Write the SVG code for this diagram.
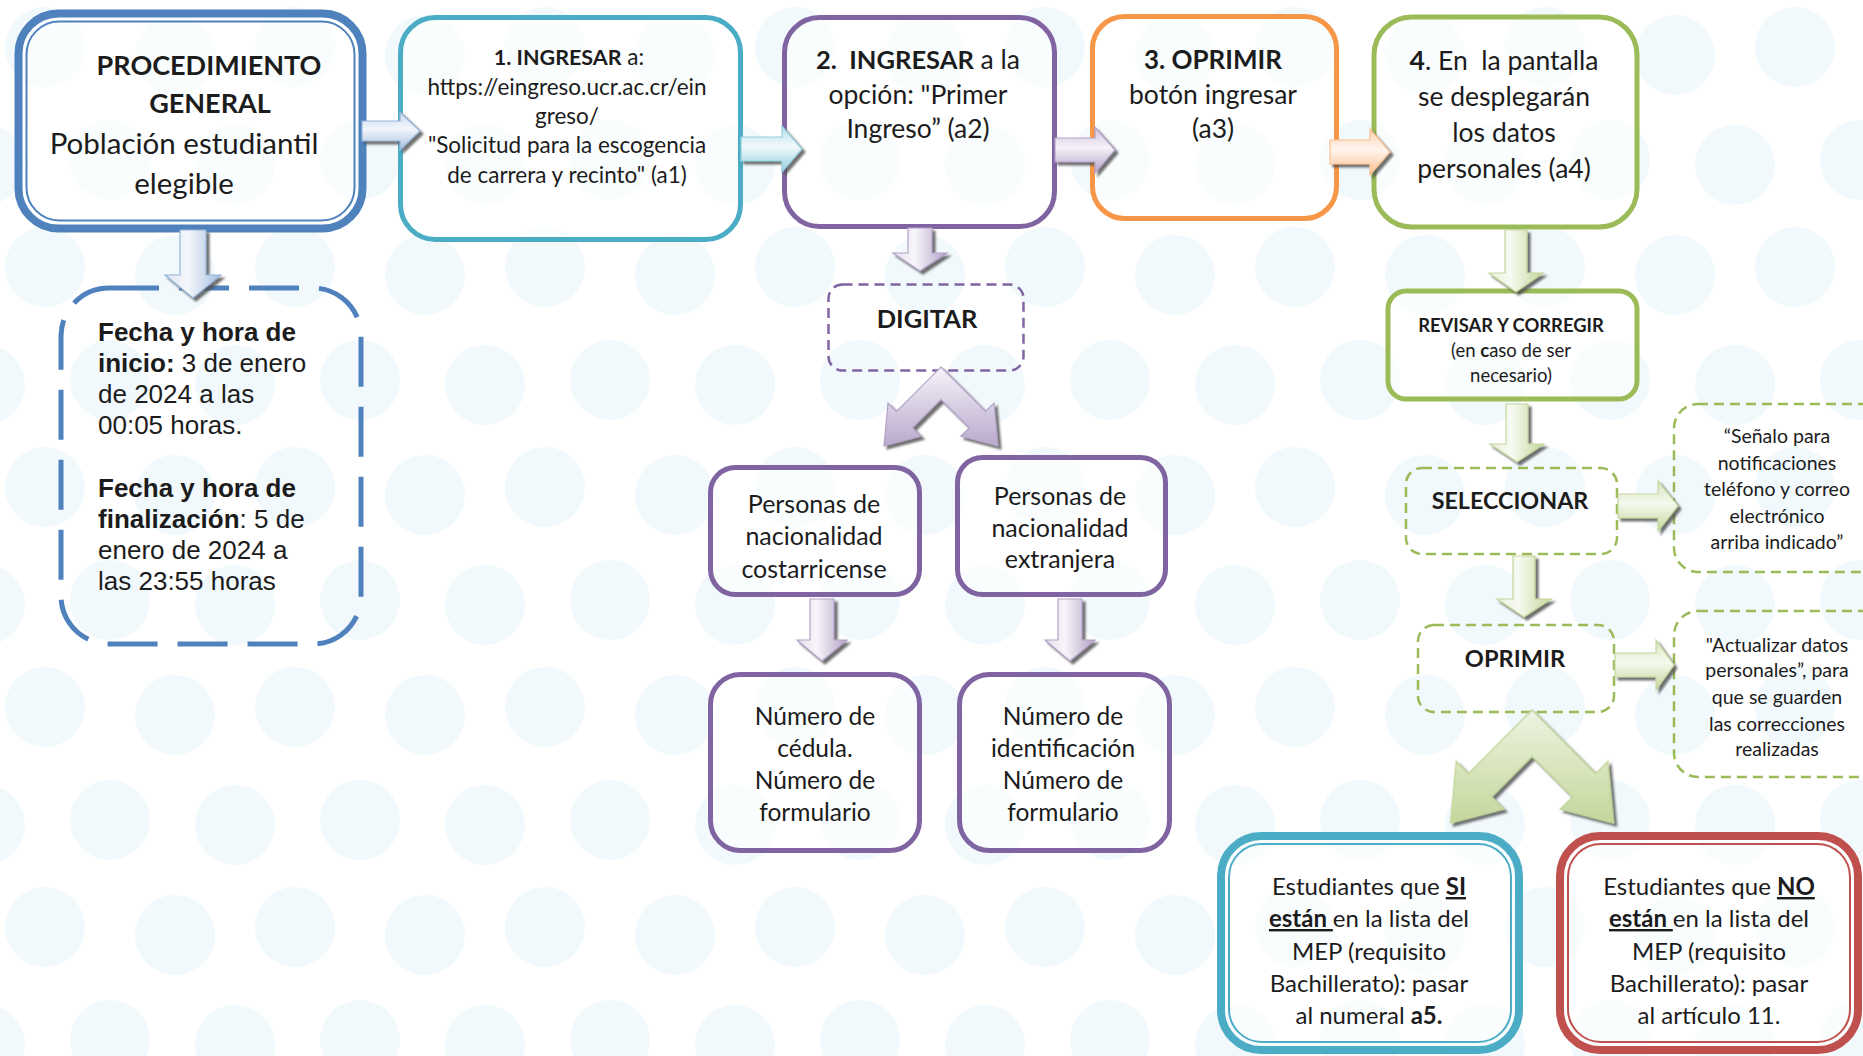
<svg xmlns="http://www.w3.org/2000/svg" width="1863" height="1056" viewBox="0 0 1863 1056">
<style>
.c{font-family:Lato,"Open Sans","Liberation Sans",sans-serif;fill:#1c1c1c;text-anchor:middle}
.a{font-family:"Liberation Sans",Arial,sans-serif;fill:#1c1c1c;font-size:26px}
.b{font-weight:bold}
.u{font-weight:bold;text-decoration:underline}
.box{fill:#ffffff;fill-opacity:.6;stroke-width:5}
.dash{fill:none;stroke-width:2.5;stroke-dasharray:10 6}
.dot{fill:#f1f9fd}
</style>
<defs>
<pattern id="dots" patternUnits="userSpaceOnUse" width="250" height="220" patternTransform="translate(0,660)">
<circle class="dot" cx="45" cy="47" r="40"/>
<circle class="dot" cx="175" cy="55" r="40"/>
<circle class="dot" cx="110" cy="160" r="40"/>
<circle class="dot" cx="235" cy="165" r="40"/>
<circle class="dot" cx="-15" cy="165" r="40"/>
<circle class="dot" cx="45" cy="267" r="40"/>
<circle class="dot" cx="175" cy="275" r="40"/>
<circle class="dot" cx="110" cy="-60" r="40"/>
<circle class="dot" cx="235" cy="-55" r="40"/>
<circle class="dot" cx="295" cy="47" r="40"/>
</pattern>
<filter id="sh" x="-20%" y="-20%" width="150%" height="150%">
<feDropShadow dx="3" dy="3" stdDeviation="1" flood-color="#4d4d4d" flood-opacity=".8"/>
</filter>
<linearGradient id="hBlue" x1="0" y1="0" x2="0" y2="1"><stop offset="0" stop-color="#c6d9f1"/><stop offset=".45" stop-color="#f2f6fb"/><stop offset="1" stop-color="#a7bfde"/></linearGradient>
<linearGradient id="hTeal" x1="0" y1="0" x2="0" y2="1"><stop offset="0" stop-color="#b7dee8"/><stop offset=".45" stop-color="#f0f9fb"/><stop offset="1" stop-color="#93cddd"/></linearGradient>
<linearGradient id="hPurp" x1="0" y1="0" x2="0" y2="1"><stop offset="0" stop-color="#ccc1da"/><stop offset=".45" stop-color="#f5f2f8"/><stop offset="1" stop-color="#b3a2c7"/></linearGradient>
<linearGradient id="hOrng" x1="0" y1="0" x2="0" y2="1"><stop offset="0" stop-color="#fcd5b5"/><stop offset=".45" stop-color="#fff5ee"/><stop offset="1" stop-color="#fabf8f"/></linearGradient>
<linearGradient id="hGrn" x1="0" y1="0" x2="0" y2="1"><stop offset="0" stop-color="#d7e4bd"/><stop offset=".45" stop-color="#f5f9ee"/><stop offset="1" stop-color="#c3d69b"/></linearGradient>
<linearGradient id="vBlue" x1="0" y1="0" x2="1" y2="0"><stop offset="0" stop-color="#dbe5f1"/><stop offset=".4" stop-color="#f5f8fc"/><stop offset="1" stop-color="#a7bfde"/></linearGradient>
<linearGradient id="vPurp" x1="0" y1="0" x2="1" y2="0"><stop offset="0" stop-color="#e5dfec"/><stop offset=".4" stop-color="#f7f5fa"/><stop offset="1" stop-color="#b3a2c7"/></linearGradient>
<linearGradient id="vGrn" x1="0" y1="0" x2="1" y2="0"><stop offset="0" stop-color="#ebf1de"/><stop offset=".4" stop-color="#f7faf1"/><stop offset="1" stop-color="#c3d69b"/></linearGradient>
<linearGradient id="cPurp" x1="0" y1="0" x2="0" y2="1"><stop offset="0" stop-color="#f6f3f9"/><stop offset="1" stop-color="#b9a9cc"/></linearGradient>
<linearGradient id="cGrn" x1="0" y1="0" x2="0" y2="1"><stop offset="0" stop-color="#eef4e2"/><stop offset="1" stop-color="#c4d79b"/></linearGradient>
<path id="chev" d="M0,0 L44.5,44.5 L53,36 L57,79 L19.8,69.3 L28.3,60.8 L0,32.5 L-28.3,60.8 L-19.8,69.3 L-57,79 L-53,36 L-44.5,44.5 Z"/>
</defs>

<g id="background">
<rect x="0" y="0" width="1863" height="1056" fill="#ffffff"/>
<rect x="0" y="0" width="1863" height="1056" fill="url(#dots)"/>
</g>

<g id="n-proc">
<rect x="18.5" y="13.5" width="344" height="215" rx="40" fill="#ffffff" fill-opacity=".6" stroke="#4f81bd" stroke-width="8"/>
<rect x="26.5" y="21.5" width="328" height="199" rx="33" fill="none" stroke="#4f81bd" stroke-width="2"/>
<text class="c b" x="209" y="75" font-size="27">PROCEDIMIENTO</text>
<text class="c b" x="210" y="113" font-size="27">GENERAL</text>
<text class="c" x="184" y="154" font-size="29.5">Población estudiantil</text>
<text class="c" x="184" y="194" font-size="29.5">elegible</text>
</g>

<g id="n-fecha">
<rect x="61" y="288" width="300" height="356" rx="48" fill="none" stroke="#4f81bd" stroke-width="5" stroke-dasharray="50 20"/>
<text class="a" x="98" y="341"><tspan class="b">Fecha y hora de</tspan></text>
<text class="a" x="98" y="372"><tspan class="b">inicio:</tspan> 3 de enero</text>
<text class="a" x="98" y="403">de 2024 a las</text>
<text class="a" x="98" y="434">00:05 horas.</text>
<text class="a" x="98" y="497"><tspan class="b">Fecha y hora de</tspan></text>
<text class="a" x="98" y="528"><tspan class="b">finalización</tspan>: 5 de</text>
<text class="a" x="98" y="559">enero de 2024 a</text>
<text class="a" x="98" y="590">las 23:55 horas</text>
</g>

<g id="n-1">
<rect class="box" x="400.5" y="17.5" width="340" height="222" rx="35" stroke="#4bacc6"/>
<text class="c" x="569" y="65" font-size="22.5"><tspan class="b" font-size="21.5">1. INGRESAR</tspan> a:</text>
<text class="c" x="567" y="95" font-size="22.5">https://eingreso.ucr.ac.cr/ein</text>
<text class="c" x="567" y="124" font-size="22.5">greso/</text>
<text class="c" x="567" y="153" font-size="22.5">"Solicitud para la escogencia</text>
<text class="c" x="567" y="183" font-size="22.5">de carrera y recinto" (a1)</text>
</g>

<g id="n-2">
<rect class="box" x="784.5" y="17.5" width="270" height="209" rx="35" stroke="#8064a2"/>
<text class="c" x="918" y="69" font-size="26.5"><tspan class="b" font-size="25.5">2.&#160; INGRESAR</tspan> a la</text>
<text class="c" x="918" y="104" font-size="26.5">opción: "Primer</text>
<text class="c" x="918" y="138" font-size="26.5">Ingreso” (a2)</text>
</g>

<g id="n-3">
<rect class="box" x="1092.5" y="16.5" width="244" height="202" rx="32" stroke="#f79646"/>
<text class="c b" x="1213" y="69" font-size="26">3. OPRIMIR</text>
<text class="c" x="1213" y="104" font-size="26.5">botón ingresar</text>
<text class="c" x="1213" y="138" font-size="26.5">(a3)</text>
</g>

<g id="n-4">
<rect class="box" x="1374" y="17" width="263" height="210" rx="38" stroke="#9bbb59" stroke-width="6"/>
<text class="c" x="1504" y="70" font-size="26.5"><tspan class="b">4</tspan>. En&#160; la pantalla</text>
<text class="c" x="1504" y="106" font-size="26.5">se desplegarán</text>
<text class="c" x="1504" y="142" font-size="26.5">los datos</text>
<text class="c" x="1504" y="178" font-size="26.5">personales (a4)</text>
</g>

<g id="n-digitar">
<rect class="dash" x="828.5" y="284.5" width="195" height="86" rx="14" stroke="#8064a2"/>
<text class="c b" x="927" y="328" font-size="25.5">DIGITAR</text>
</g>

<g id="n-cr">
<rect class="box" x="710.5" y="467.5" width="209" height="127" rx="25" stroke="#8064a2"/>
<text class="c" x="814" y="513" font-size="25">Personas de</text>
<text class="c" x="814" y="545" font-size="25">nacionalidad</text>
<text class="c" x="814" y="578" font-size="25">costarricense</text>
</g>

<g id="n-ext">
<rect class="box" x="957.5" y="457.5" width="208" height="137" rx="25" stroke="#8064a2"/>
<text class="c" x="1060" y="505" font-size="25">Personas de</text>
<text class="c" x="1060" y="537" font-size="25">nacionalidad</text>
<text class="c" x="1060" y="568" font-size="25">extranjera</text>
</g>

<g id="n-ced">
<rect class="box" x="710.5" y="674.5" width="209" height="176" rx="30" stroke="#8064a2"/>
<text class="c" x="815" y="725" font-size="24.5">Número de</text>
<text class="c" x="815" y="757" font-size="24.5">cédula.</text>
<text class="c" x="815" y="789" font-size="24.5">Número de</text>
<text class="c" x="815" y="821" font-size="24.5">formulario</text>
</g>

<g id="n-ident">
<rect class="box" x="959.5" y="674.5" width="210" height="176" rx="30" stroke="#8064a2"/>
<text class="c" x="1063" y="725" font-size="24.5">Número de</text>
<text class="c" x="1063" y="757" font-size="24.5">identificación</text>
<text class="c" x="1063" y="789" font-size="24.5">Número de</text>
<text class="c" x="1063" y="821" font-size="24.5">formulario</text>
</g>

<g id="n-revisar">
<rect class="box" x="1388" y="291" width="249" height="108" rx="18" stroke="#9bbb59" stroke-width="5.5"/>
<text class="c b" x="1511" y="332" font-size="18.4">REVISAR Y CORREGIR</text>
<text class="c" x="1511" y="357" font-size="18.5">(en <tspan class="b">c</tspan>aso de ser</text>
<text class="c" x="1511" y="382" font-size="18.5">necesario)</text>
</g>

<g id="n-sel">
<rect class="dash" x="1406" y="468" width="211" height="86" rx="16" stroke="#9bbb59"/>
<text class="c b" x="1510" y="509" font-size="23.3">SELECCIONAR</text>
</g>

<g id="n-opr">
<rect class="dash" x="1418" y="625" width="196" height="87" rx="16" stroke="#9bbb59"/>
<text class="c b" x="1515" y="667" font-size="23.6">OPRIMIR</text>
</g>

<g id="n-note1">
<rect class="dash" x="1674" y="404" width="240" height="168" rx="24" stroke="#9bbb59"/>
<text class="c" x="1777" y="443" font-size="19.5">“Señalo para</text>
<text class="c" x="1777" y="470" font-size="19.5">notificaciones</text>
<text class="c" x="1777" y="496" font-size="19.5">teléfono y correo</text>
<text class="c" x="1777" y="523" font-size="19.5">electrónico</text>
<text class="c" x="1777" y="549" font-size="19.5">arriba indicado”</text>
</g>

<g id="n-note2">
<rect class="dash" x="1674" y="611" width="240" height="166" rx="24" stroke="#9bbb59"/>
<text class="c" x="1777" y="652" font-size="19.5">"Actualizar datos</text>
<text class="c" x="1777" y="677" font-size="19.5">personales”, para</text>
<text class="c" x="1777" y="704" font-size="19.5">que se guarden</text>
<text class="c" x="1777" y="731" font-size="19.5">las correcciones</text>
<text class="c" x="1777" y="756" font-size="19.5">realizadas</text>
</g>

<g id="n-si">
<rect x="1221" y="836" width="298" height="214" rx="40" fill="#ffffff" fill-opacity=".6" stroke="#4bacc6" stroke-width="8"/>
<rect x="1229" y="844" width="282" height="198" rx="33" fill="none" stroke="#4bacc6" stroke-width="2"/>
<text class="c" x="1369" y="895" font-size="24">Estudiantes que <tspan class="u">SI</tspan></text>
<text class="c" x="1369" y="927" font-size="24"><tspan class="u">están </tspan>en la lista del</text>
<text class="c" x="1369" y="960" font-size="24">MEP (requisito</text>
<text class="c" x="1369" y="992" font-size="24">Bachillerato): pasar</text>
<text class="c" x="1369" y="1024" font-size="24">al numeral <tspan class="b">a5.</tspan></text>
</g>

<g id="n-no">
<rect x="1560" y="836" width="298" height="214" rx="40" fill="#ffffff" fill-opacity=".6" stroke="#c0504d" stroke-width="8"/>
<rect x="1568" y="844" width="282" height="198" rx="33" fill="none" stroke="#c0504d" stroke-width="2"/>
<text class="c" x="1709" y="895" font-size="24">Estudiantes que <tspan class="u">NO</tspan></text>
<text class="c" x="1709" y="927" font-size="24"><tspan class="u">están </tspan>en la lista del</text>
<text class="c" x="1709" y="960" font-size="24">MEP (requisito</text>
<text class="c" x="1709" y="992" font-size="24">Bachillerato): pasar</text>
<text class="c" x="1709" y="1024" font-size="24">al artículo 11.</text>
</g>

<g id="connectors" filter="url(#sh)" stroke-width="1.2">
<polygon points="362,121 400,121 400,112 420,131 400,150 400,141 362,141" fill="url(#hBlue)" stroke="#95b3d7"/>
<polygon points="741,137 782,137 782,126 802,149 782,172 782,161 741,161" fill="url(#hTeal)" stroke="#93cddd"/>
<polygon points="1055,138 1095,138 1095,127 1115,150 1095,173 1095,162 1055,162" fill="url(#hPurp)" stroke="#b3a2c7"/>
<polygon points="1330,140 1370,140 1370,129 1390,152 1370,175 1370,164 1330,164" fill="url(#hOrng)" stroke="#fac090"/>
<polygon points="1618,494 1658,494 1658,481 1678,506 1658,531 1658,518 1618,518" fill="url(#hGrn)" stroke="#c3d69b"/>
<polygon points="1615,653 1656,653 1656,640 1674,665 1656,690 1656,677 1615,677" fill="url(#hGrn)" stroke="#c3d69b"/>
<polygon points="180,230 206,230 206,275 221,275 193,298 165,275 180,275" fill="url(#vBlue)" stroke="#95b3d7"/>
<polygon points="908,228 932,228 932,253 947,253 920,271 893,253 908,253" fill="url(#vPurp)" stroke="#b3a2c7"/>
<polygon points="810,599 834,599 834,640 847,640 822,661 797,640 810,640" fill="url(#vPurp)" stroke="#b3a2c7"/>
<polygon points="1058,599 1082,599 1082,640 1095,640 1070,661 1045,640 1058,640" fill="url(#vPurp)" stroke="#b3a2c7"/>
<polygon points="1505,230 1527,230 1527,273 1543,273 1516,292 1489,273 1505,273" fill="url(#vGrn)" stroke="#c3d69b"/>
<polygon points="1506,404 1528,404 1528,444 1544,444 1517,462 1490,444 1506,444" fill="url(#vGrn)" stroke="#c3d69b"/>
<polygon points="1513,556 1535,556 1535,599 1551,599 1524,617 1497,599 1513,599" fill="url(#vGrn)" stroke="#c3d69b"/>
<use href="#chev" transform="translate(941,367)" fill="url(#cPurp)" stroke="#b3a2c7"/>
<use href="#chev" transform="translate(1532,710) scale(1.43)" fill="url(#cGrn)" stroke="#c3d69b" stroke-width="1"/>
</g>
</svg>
